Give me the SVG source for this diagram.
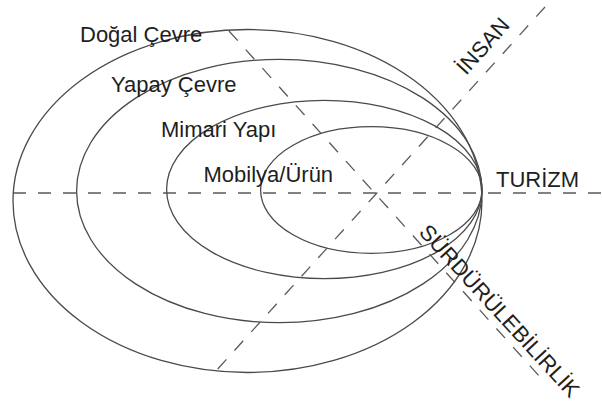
<svg xmlns="http://www.w3.org/2000/svg" width="602" height="405" viewBox="0 0 602 405">
<style>
.e{fill:none;stroke:#4a4a4a;stroke-width:1.3}
.d{fill:none;stroke:#5a5a5a;stroke-width:1.3;stroke-dasharray:13 12}
text{font-family:"Liberation Sans",Arial,sans-serif;font-size:22px;fill:#1e1e1e}
</style>
<rect width="602" height="405" fill="#fff"/>
<g id="connectors">
<line class="d" x1="13" y1="193" x2="602" y2="193"/>
<line class="d" x1="545" y1="7" x2="215" y2="372"/>
<line class="d" x1="229" y1="31" x2="540" y2="377"/>
</g>
<g id="dogal-cevre">
<ellipse class="e" cx="247.5" cy="201" rx="234.5" ry="171.5"/>
<text x="80" y="41.7">Doğal Çevre</text>
</g>
<g id="yapay-cevre">
<ellipse class="e" cx="279.3" cy="191" rx="202.7" ry="131.7"/>
<text x="111" y="91.7">Yapay Çevre</text>
</g>
<g id="mimari-yapi">
<ellipse class="e" cx="324.3" cy="189.5" rx="157.7" ry="89.2"/>
<text x="161" y="136.7">Mimari Yapı</text>
</g>
<g id="mobilya-urun">
<ellipse class="e" cx="371.3" cy="190" rx="110.7" ry="63.3"/>
<text x="203.5" y="182.3">Mobilya/Ürün</text>
</g>
<g id="turizm">
<text x="496" y="187.3">TURİZM</text>
</g>
<g id="insan">
<text transform="translate(466 76) rotate(-48)">İNSAN</text>
</g>
<g id="surdurulebilirlik">
<text transform="translate(418 233) rotate(47.5)">SÜRDÜRÜLEBİLİRLİK</text>
</g>
</svg>
